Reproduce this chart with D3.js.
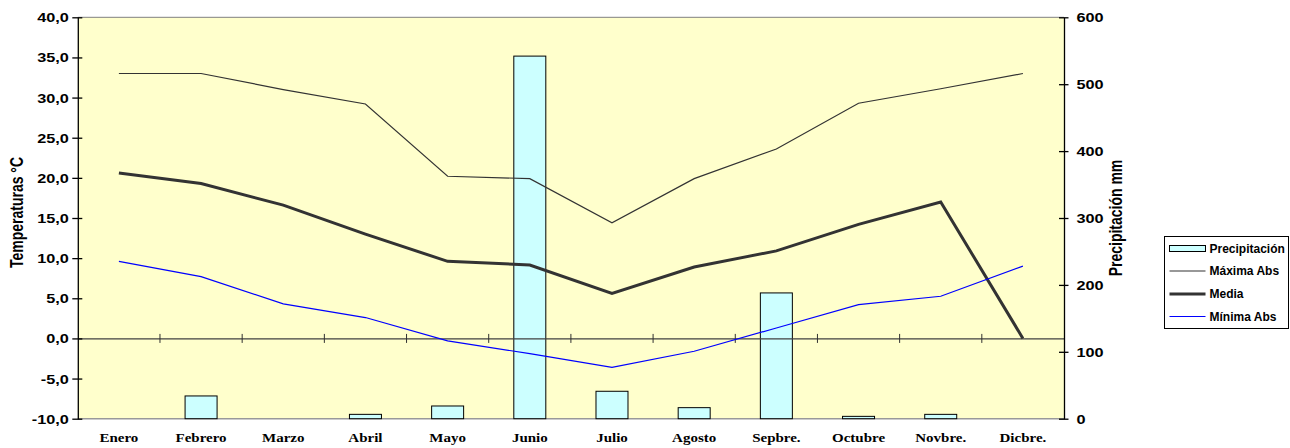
<!DOCTYPE html>
<html>
<head>
<meta charset="utf-8">
<script src="https://cdn.jsdelivr.net/npm/d3@7"></script>
<style>
  html, body { margin: 0; padding: 0; background: #ffffff; }
  svg { display: block; }
</style>
</head>
<body>
<svg id="chart" width="1290" height="448"></svg>
<script>
// Monthly climate data
const months = ["Enero", "Febrero", "Marzo", "Abril", "Mayo", "Junio", "Julio", "Agosto", "Sepbre.", "Octubre", "Novbre.", "Dicbre."];
const precipitacion = [0, 34, 0, 6.5, 19, 542, 41, 16.5, 188, 3.5, 6.5, 0];
const maximaAbs = [33.0, 33.0, 31.0, 29.2, 20.2, 19.9, 14.4, 19.9, 23.6, 29.3, 31.1, 33.0];
const media = [20.6, 19.3, 16.6, 13.0, 9.6, 9.15, 5.6, 8.9, 10.9, 14.2, 17.0, 0];
const minimaAbs = [9.6, 7.7, 4.3, 2.6, -0.3, -1.9, -3.6, -1.6, 1.3, 4.2, 5.25, 9.0];
const tempTicks = [-10, -5, 0, 5, 10, 15, 20, 25, 30, 35, 40];
const precTicks = [0, 100, 200, 300, 400, 500, 600];
const legendItems = ["Precipitación", "Máxima Abs", "Media", "Mínima Abs"];

const svg = d3.select("#chart");
const plotL = 77.8, plotR = 1064, plotT = 17.3, plotB = 418.7;
const sx = 1.25; // horizontal text stretch

const x = d3.scaleBand().domain(months).range([plotL, plotR]).paddingInner(0).paddingOuter(0);
const yT = d3.scaleLinear().domain([-10, 40]).range([plotB, plotT]);
const yP = d3.scaleLinear().domain([0, 600]).range([plotB, plotT]);
const cx = m => x(m) + x.bandwidth() / 2;

const sans = "'Liberation Sans', Arial, sans-serif";
const serif = "'Liberation Serif', 'Times New Roman', serif";
const fmtTemp = d => d3.format(".1f")(d).replace(".", ",").replace("\u2212", "-");

// plot area
svg.append("rect").attr("x", plotL).attr("y", plotT).attr("width", plotR - plotL).attr("height", plotB - plotT)
  .attr("fill", "#ffffcc");
svg.append("line").attr("x1", plotL).attr("x2", plotR).attr("y1", plotT).attr("y2", plotT)
  .attr("stroke", "#808080").attr("stroke-width", 1);
svg.append("line").attr("x1", plotL).attr("x2", plotR).attr("y1", plotB).attr("y2", plotB)
  .attr("stroke", "#999999").attr("stroke-width", 1.5);

// precipitation bars
const barW = 32;
svg.append("g").selectAll("rect").data(months).join("rect")
  .attr("x", (m) => cx(m) - barW / 2)
  .attr("y", (m, i) => yP(precipitacion[i]))
  .attr("width", barW)
  .attr("height", (m, i) => yP(0) - yP(precipitacion[i]))
  .attr("fill", "#ccffff")
  .attr("stroke", "#000000")
  .attr("stroke-width", 1)
  .attr("display", (m, i) => precipitacion[i] > 0 ? null : "none");

// zero line with category ticks
const xAxis = d3.axisBottom(x).tickSize(0).tickFormat("");
const zeroG = svg.append("g").attr("transform", `translate(0,${yT(0)})`).call(xAxis);
zeroG.select(".domain").attr("stroke", "#404040").attr("stroke-width", 1.2);
zeroG.selectAll(".tick").remove();
zeroG.selectAll("line.cat").data(months.slice(1)).join("line")
  .attr("class", "cat")
  .attr("x1", m => x(m)).attr("x2", m => x(m))
  .attr("y1", -4.5).attr("y2", 4.5)
  .attr("stroke", "#303030").attr("stroke-width", 1);

// temperature lines
const line = d3.line().x((d, i) => cx(months[i])).y(d => yT(d));
svg.append("path").datum(maximaAbs).attr("d", line)
  .attr("fill", "none").attr("stroke", "#333333").attr("stroke-width", 1.2);
svg.append("path").datum(media).attr("d", line)
  .attr("fill", "none").attr("stroke", "#333333").attr("stroke-width", 3);
svg.append("path").datum(minimaAbs).attr("d", line)
  .attr("fill", "none").attr("stroke", "#0000ff").attr("stroke-width", 1.2);

// left axis
const yLeft = d3.axisLeft(yT).tickValues(tempTicks).tickSize(0).tickFormat("");
const gl = svg.append("g").attr("transform", `translate(${plotL},0)`).call(yLeft);
gl.select(".domain").attr("stroke", "#000").attr("stroke-width", 1.3);
gl.selectAll(".tick").append("line").attr("x1", -5.5).attr("x2", 4.5).attr("stroke", "#000").attr("stroke-width", 1.3);
gl.selectAll(".tick text").remove();
gl.selectAll(".tick").append("g").attr("transform", `translate(-9,0) scale(${sx},1)`)
  .append("text")
  .attr("text-anchor", "end").attr("dy", "0.35em")
  .style("font-family", sans).style("font-weight", "bold").style("font-size", "13px").attr("fill", "#000")
  .text(fmtTemp);

// right axis
const yRight = d3.axisRight(yP).tickValues(precTicks).tickSize(0).tickFormat("");
const gr = svg.append("g").attr("transform", `translate(${plotR},0)`).call(yRight);
gr.select(".domain").attr("stroke", "#000").attr("stroke-width", 1.3);
gr.selectAll(".tick").append("line").attr("x1", -5).attr("x2", 4.5).attr("stroke", "#000").attr("stroke-width", 1.3);
gr.selectAll(".tick text").remove();
gr.selectAll(".tick").append("g").attr("transform", `translate(12.5,0) scale(${sx},1)`)
  .append("text")
  .attr("text-anchor", "start").attr("dy", "0.35em")
  .style("font-family", sans).style("font-weight", "bold").style("font-size", "13px").attr("fill", "#000")
  .text(d => d);

// month labels
svg.append("g").selectAll("g").data(months).join("g")
  .attr("transform", m => `translate(${cx(m)},442) scale(${sx},1)`)
  .append("text").attr("text-anchor", "middle")
  .style("font-family", serif).style("font-weight", "bold").style("font-size", "12px").attr("fill", "#000")
  .text(m => m);

// axis titles
svg.append("g").attr("transform", `translate(23,212.5) scale(${sx},1) rotate(-90)`)
  .append("text").attr("text-anchor", "middle")
  .style("font-family", sans).style("font-weight", "bold").style("font-size", "14px").attr("fill", "#000")
  .text("Temperaturas °C");
svg.append("g").attr("transform", `translate(1122,218) scale(${sx},1) rotate(-90)`)
  .append("text").attr("text-anchor", "middle")
  .style("font-family", sans).style("font-weight", "bold").style("font-size", "14px").attr("fill", "#000")
  .text("Precipitación mm");

// legend
const lg = svg.append("g").attr("transform", "translate(1164.5,236.5)");
lg.append("rect").attr("width", 124).attr("height", 92).attr("fill", "#fff").attr("stroke", "#000").attr("stroke-width", 1);
const rowY = [12, 34.5, 57.5, 80];
lg.append("rect").attr("x", 5).attr("y", rowY[0] - 3).attr("width", 36).attr("height", 6)
  .attr("fill", "#ccffff").attr("stroke", "#000").attr("stroke-width", 1);
const legendStyles = [null, { c: "#333333", w: 1.2 }, { c: "#333333", w: 3 }, { c: "#0000ff", w: 1.2 }];
legendStyles.forEach((s, i) => {
  if (!s) return;
  lg.append("line").attr("x1", 5).attr("x2", 41).attr("y1", rowY[i]).attr("y2", rowY[i])
    .attr("stroke", s.c).attr("stroke-width", s.w);
});
lg.selectAll("text").data(legendItems).join("text")
  .attr("x", 45).attr("y", (d, i) => rowY[i]).attr("dy", "0.35em")
  .style("font-family", sans).style("font-weight", "bold").style("font-size", "12px").attr("fill", "#000")
  .text(d => d);
</script>
</body>
</html>
